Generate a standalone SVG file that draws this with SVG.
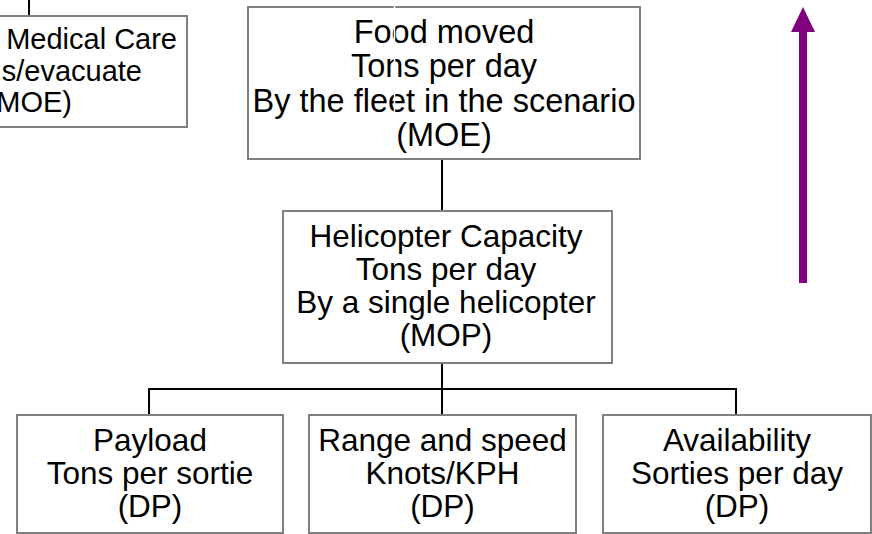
<svg xmlns="http://www.w3.org/2000/svg" width="872" height="534" viewBox="0 0 872 534">
<style>
.box{fill:#fff;stroke:#808080;stroke-width:2}
.t{font-family:"Liberation Sans",Arial,sans-serif;font-size:31.5px;fill:#000;text-anchor:middle}
.tf{font-size:32.5px}
.tl{font-family:"Liberation Sans",Arial,sans-serif;font-size:29px;fill:#000;text-anchor:end}
.c{stroke:#000;stroke-width:2;fill:none}
</style>
<rect width="872" height="534" fill="#fff"/>
<g id="node-medical">
<rect class="box" x="-110" y="16" width="297" height="111"/>
<text class="tl" x="177" y="49">Medical Care</text>
<text class="tl" x="142" y="81">s/evacuate</text>
<text class="tl" x="72" y="112">MOE)</text>
</g>
<g id="node-food">
<rect class="box" x="248" y="7" width="392" height="152"/>
<text class="t tf" x="444" y="43">Food moved</text>
<text class="t tf" x="444" y="77">Tons per day</text>
<text class="t tf" x="444" y="111.5">By the fleet in the scenario</text>
<text class="t tf" x="444" y="146">(MOE)</text>
</g>
<g id="node-heli">
<rect class="box" x="283" y="211" width="329" height="152"/>
<text class="t" x="446" y="247">Helicopter Capacity</text>
<text class="t" x="446" y="280">Tons per day</text>
<text class="t" x="446" y="313">By a single helicopter</text>
<text class="t" x="446" y="346">(MOP)</text>
</g>
<g id="node-payload">
<rect class="box" x="17" y="415" width="266" height="118"/>
<text class="t" x="150" y="451">Payload</text>
<text class="t" x="150" y="484">Tons per sortie</text>
<text class="t" x="150" y="517">(DP)</text>
</g>
<g id="node-range">
<rect class="box" x="309" y="415" width="267" height="118"/>
<text class="t" x="442.5" y="451">Range and speed</text>
<text class="t" x="442.5" y="484">Knots/KPH</text>
<text class="t" x="442.5" y="517">(DP)</text>
</g>
<g id="node-availability">
<rect class="box" x="603" y="415" width="268" height="118"/>
<text class="t" x="737" y="451">Availability</text>
<text class="t" x="737" y="484">Sorties per day</text>
<text class="t" x="737" y="517">(DP)</text>
</g>
<g id="connectors">
<line class="c" x1="29" y1="0" x2="29" y2="15"/>
<line class="c" x1="442" y1="160" x2="442" y2="210"/>
<line class="c" x1="442" y1="364" x2="442" y2="414"/>
<polyline class="c" points="149,414 149,389 736,389 736,414"/>
<line x1="394.5" y1="0" x2="394.5" y2="116" stroke="#fff" stroke-width="1.5"/>
</g>
<g id="arrow">
<rect x="799" y="31" width="8" height="252" fill="#800080"/>
<polygon points="803,7 791,32 815,32" fill="#800080"/>
</g>
</svg>
